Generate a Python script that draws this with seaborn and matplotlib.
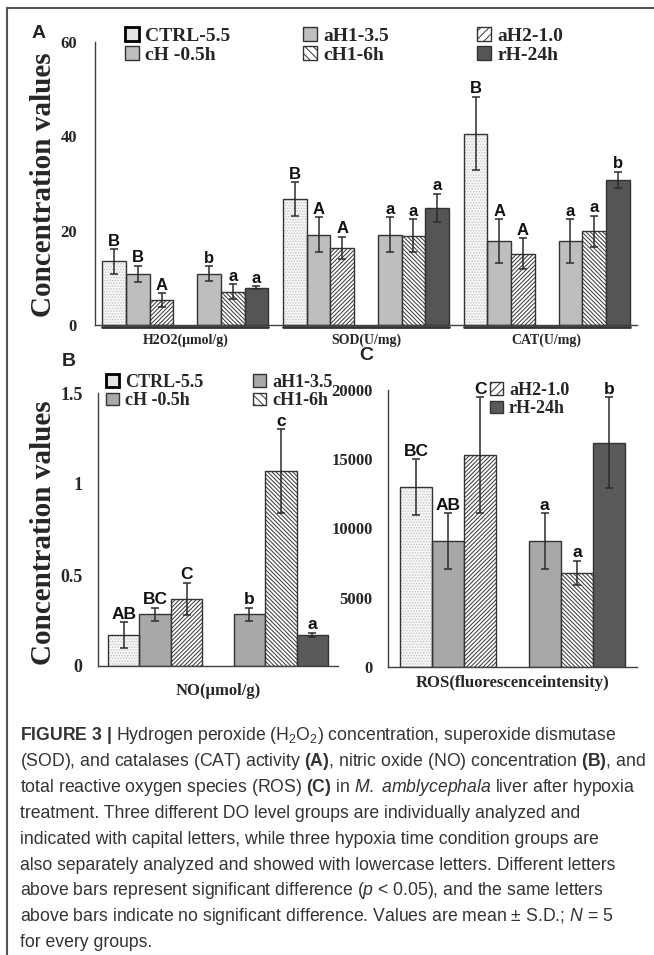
import numpy as np
import pandas as pd
import seaborn as sns
import matplotlib
import matplotlib.pyplot as plt
from matplotlib.patches import Patch, Rectangle
from matplotlib.lines import Line2D

sns.set_style('white')
serif = ['Liberation Serif', 'DejaVu Serif']
sans = ['Liberation Sans', 'DejaVu Sans']
narrow = ['Liberation Sans Narrow', 'Liberation Sans', 'DejaVu Sans']
plt.rcParams['font.family'] = serif
plt.rcParams['hatch.linewidth'] = 0.7
plt.rcParams['mathtext.fontset'] = 'custom'
plt.rcParams['mathtext.rm'] = 'Liberation Sans'
plt.rcParams['mathtext.it'] = 'Liberation Sans:italic'
plt.rcParams['mathtext.bf'] = 'Liberation Sans:bold'

groups = ['CTRL-5.5', 'aH1-3.5', 'aH2-1.0', 'cH -0.5h', 'cH1-6h', 'rH-24h']
order = groups[:3] + [' '] + groups[3:]   # empty slot between DO groups and time groups

# panel A
measures_a = ['H2O2(μmol/g)', 'SOD(U/mg)', 'CAT(U/mg)']
h2o2_mean = [13.5, 10.9, 5.3, 10.9, 7.1, 7.9]
h2o2_sd = [2.6, 1.7, 1.4, 1.6, 1.5, 0.35]
h2o2_sig = ['B', 'B', 'A', 'b', 'a', 'a']
sod_mean = [26.7, 19.1, 16.3, 19.1, 18.9, 24.8]
sod_sd = [3.6, 3.7, 2.4, 3.7, 3.5, 3.0]
sod_sig = ['B', 'A', 'A', 'a', 'a', 'a']
cat_mean = [40.6, 17.8, 15.1, 17.8, 19.9, 30.8]
cat_sd = [7.8, 4.6, 3.3, 4.6, 3.3, 1.7]
cat_sig = ['B', 'A', 'A', 'a', 'a', 'b']

# panel B
no_mean = [0.17, 0.285, 0.368, 0.285, 1.07, 0.17]
no_sd = [0.07, 0.035, 0.09, 0.035, 0.23, 0.013]
no_sig = ['AB', 'BC', 'C', 'b', 'c', 'a']

# panel C
ros_mean = [13000, 9100, 15300, 9100, 6800, 16200]
ros_sd = [2000, 2000, 4200, 2000, 870, 3300]
ros_sig = ['BC', 'AB', 'C', 'a', 'a', 'b']

hatches = {'CTRL-5.5': '......', 'aH2-1.0': '////////', 'cH1-6h': '\\' * 8}


def faces(gray, dark):
    return {'CTRL-5.5': '#f7f7f7', 'aH1-3.5': gray, 'aH2-1.0': 'white',
            'cH -0.5h': gray, 'cH1-6h': 'white', 'rH-24h': dark, ' ': 'white'}


W, H = 654, 955
def fx(px):
    return px / W
def fy(py):
    return 1 - py / H


def paint(ax, p, g, face):
    p.set_facecolor(face[g])
    p.set_edgecolor('#333333')
    p.set_linewidth(1.0)
    if g in hatches:
        p.set_hatch(hatches[g])
    if g == 'CTRL-5.5':
        # light stipple: hatch takes the edge colour, so outline separately
        p.set_edgecolor('#c4c4c4')
        p.set_linewidth(0)
        ax.add_patch(Rectangle((p.get_x(), p.get_y()), p.get_width(), p.get_height(),
                               fill=False, edgecolor='#333333', lw=1.0, zorder=2.5))


def panel(ax, measures, means, sds, sigs, face, width, sig_size):
    df = pd.DataFrame({'measure': np.repeat(measures, len(groups)),
                       'group': groups * len(measures),
                       'value': np.concatenate(means)})
    sns.barplot(data=df, x='measure', y='value', hue='group', hue_order=order,
                palette=face, width=width, errorbar=None, legend=False, ax=ax)
    conts = [c for c in ax.containers if len(c)]
    for i, (g, c) in enumerate(zip(groups, conts)):
        for j, p in enumerate(c):
            paint(ax, p, g, face)
            p.set_zorder(2)
            xc = p.get_x() + p.get_width() / 2
            m, s = p.get_height(), sds[j][i]
            ax.errorbar(xc, m, yerr=s, color='#2b2b2b', lw=1.1, capsize=3,
                        capthick=1.1, zorder=3)
            ax.annotate(sigs[j][i], (xc, m + s), xytext=(0, 0.3),
                        textcoords='offset points', ha='center', va='bottom',
                        fontsize=sig_size, fontweight='bold', family=narrow,
                        color='#111111', zorder=4)
    sns.despine(ax=ax)
    for sp in ['left', 'bottom']:
        ax.spines[sp].set_color('#404040')
        ax.spines[sp].set_linewidth(1.0)
    ax.set_xlabel('')
    ax.set_ylabel('')
    return conts


fig = plt.figure(figsize=(6.54, 9.55), dpi=100)

# ---------------- A
face_a = faces('#bebebe', '#555555')
ax_a = fig.add_axes([fx(95), fy(325), (637 - 95) / W, (325 - 42) / H])
conts = panel(ax_a, measures_a, [h2o2_mean, sod_mean, cat_mean],
              [h2o2_sd, sod_sd, cat_sd], [h2o2_sig, sod_sig, cat_sig],
              face_a, 0.917, 12)
ax_a.set_xlim(-0.5, 2.5)
ax_a.set_ylim(0, 60)
ax_a.set_yticks([0, 20, 40, 60], ['0', '20', '40', '60'], fontweight='bold')
ax_a.set_xticks(range(3), measures_a, fontweight='bold')
ax_a.set_xticks([0.5, 1.5, 2.5], minor=True)
ax_a.tick_params(axis='y', direction='in', length=4, pad=13, labelsize=12, color='#404040')
ax_a.tick_params(axis='x', which='major', length=0, pad=6, labelsize=10)
ax_a.tick_params(axis='x', which='minor', direction='in', length=4, color='#404040')
# underline below each measure group
for j in range(3):
    left = min(c[j].get_x() for c in conts)
    right = max(c[j].get_x() + c[j].get_width() for c in conts)
    ax_a.plot([left, right], [-0.45, -0.45], color='#333333', lw=2, clip_on=False)

# ---------------- B
face_bc = faces('#a8a8a8', '#5a5a5a')
ax_b = fig.add_axes([fx(98), fy(666), 240 / W, (666 - 393) / H])
panel(ax_b, ['NO(μmol/g)'], [no_mean], [no_sd], [no_sig], face_bc, 0.917, 12.5)
ax_b.set_xlim(-0.5, 0.5)
ax_b.set_ylim(0, 1.5)
ax_b.set_yticks([0, 0.5, 1, 1.5], ['0', '0.5', '1', '1.5'], fontweight='bold')
ax_b.set_xticks([0], ['NO(μmol/g)'], fontweight='bold')
ax_b.set_xticks([0.5], minor=True)
ax_b.tick_params(axis='y', direction='in', length=4, pad=11, labelsize=13, color='#404040')
ax_b.tick_params(axis='x', which='major', length=0, pad=12, labelsize=12)
ax_b.tick_params(axis='x', which='minor', direction='in', length=4, color='#404040')

# ---------------- C
ax_c = fig.add_axes([fx(388), fy(667), 249 / W, (667 - 390) / H])
panel(ax_c, ['ROS(fluorescenceintensity)'], [ros_mean], [ros_sd], [ros_sig],
      face_bc, 0.905, 12.5)
ax_c.set_xlim(-0.5, 0.5)
ax_c.set_ylim(0, 20000)
ax_c.set_yticks([0, 5000, 10000, 15000, 20000],
                ['0', '5000', '10000', '15000', '20000'], fontweight='bold')
ax_c.set_xticks([0], ['ROS(fluorescenceintensity)'], fontweight='bold')
ax_c.set_xticks([0.5], minor=True)
ax_c.tick_params(axis='y', direction='in', length=4, pad=11, labelsize=12, color='#404040')
ax_c.tick_params(axis='x', which='major', length=0, pad=6, labelsize=12)
ax_c.tick_params(axis='x', which='minor', direction='in', length=4, color='#404040')

# ---------------- legends (one per column)
def handle(g, face):
    if g == 'CTRL-5.5':
        return Patch(facecolor='#e4e4e4', edgecolor='black', linewidth=2)
    return Patch(facecolor=face[g], edgecolor='#333333', linewidth=1,
                 hatch=hatches.get(g, '')[:4] or None)

def legend_col(entries, face, x, y, fs):
    fig.legend(handles=[handle(g, face) for g in entries], labels=entries,
               loc='upper left', bbox_to_anchor=(fx(x), fy(y)), frameon=False,
               borderpad=0, borderaxespad=0, handlelength=0.7, handleheight=0.7,
               handletextpad=0.35, labelspacing=0.08,
               prop={'family': serif, 'weight': 'bold', 'size': fs})

legend_col(['CTRL-5.5', 'cH -0.5h'], face_a, 125, 27, 14)
legend_col(['aH1-3.5', 'cH1-6h'], face_a, 303, 27, 14)
legend_col(['aH2-1.0', 'rH-24h'], face_a, 477, 27, 14)
legend_col(['CTRL-5.5', 'cH -0.5h'], face_bc, 106, 374, 13)
legend_col(['aH1-3.5', 'cH1-6h'], face_bc, 253, 374, 13)
legend_col(['aH2-1.0', 'rH-24h'], face_bc, 490, 382, 13)

# ---------------- labels
for yc in [185, 533]:
    fig.text(fx(44), fy(yc), 'Concentration values', rotation=90, ha='center',
             va='center', fontsize=21, fontweight='bold', family=serif)
fig.text(fx(39), fy(34), 'A', ha='center', va='center', fontsize=14,
         fontweight='bold', family=sans)
fig.text(fx(69), fy(361), 'B', ha='center', va='center', fontsize=14,
         fontweight='bold', family=sans)
fig.text(fx(366), fy(355), 'C', ha='center', va='center', fontsize=14,
         fontweight='bold', family=sans)

# frame
fig.add_artist(Line2D([fx(7), 1], [fy(8), fy(8)], color='#555555', lw=1.5))
fig.add_artist(Line2D([fx(7), fx(7)], [0, fy(8)], color='#555555', lw=1.5))

caption = [
    r"$\mathbf{FIGURE\ 3\ |}$ Hydrogen peroxide (H$_2$O$_2$) concentration, superoxide dismutase",
    r"(SOD), and catalases (CAT) activity $\mathbf{(A)}$, nitric oxide (NO) concentration $\mathbf{(B)}$, and",
    r"total reactive oxygen species (ROS) $\mathbf{(C)}$ in $\mathit{M.\ amblycephala}$ liver after hypoxia",
    "treatment. Three different DO level groups are individually analyzed and",
    "indicated with capital letters, while three hypoxia time condition groups are",
    "also separately analyzed and showed with lowercase letters. Different letters",
    r"above bars represent significant difference ($\mathit{p}$ < 0.05), and the same letters",
    r"above bars indicate no significant difference. Values are mean ± S.D.; $\mathit{N}$ = 5",
    "for every groups.",
]
for i, line in enumerate(caption):
    fig.text(fx(20), fy(736 + i * 25.8), line, ha='left', va='center',
             fontsize=12.7, family=sans, color='#333333')

fig.savefig('out.png', dpi=100)
